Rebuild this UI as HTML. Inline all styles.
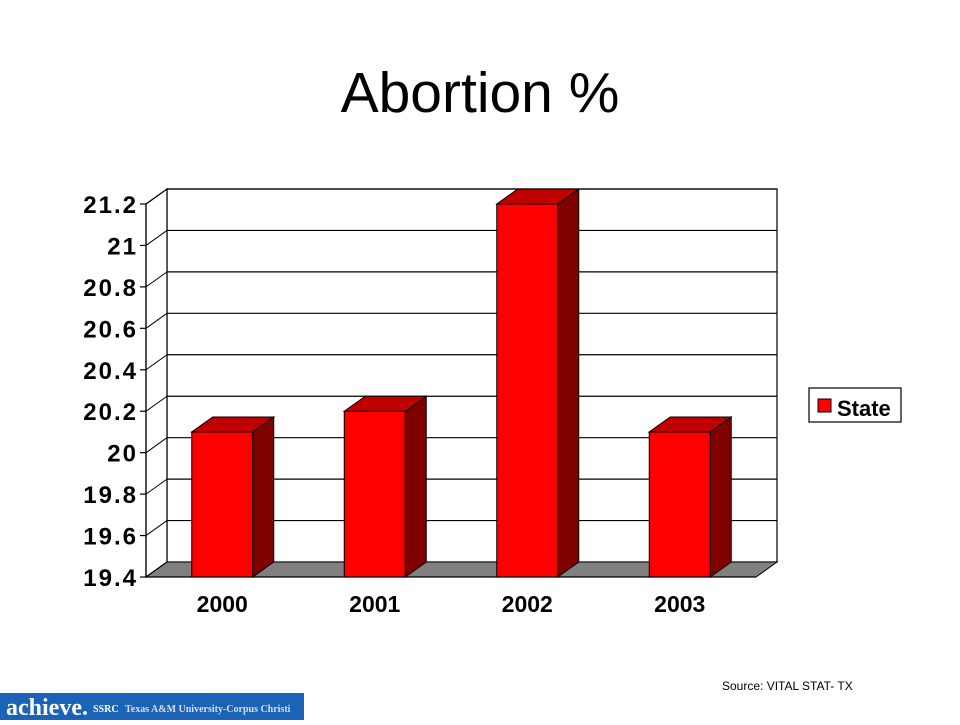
<!DOCTYPE html>
<html><head><meta charset="utf-8"><style>
body{margin:0;background:#fff;width:960px;height:720px;overflow:hidden;font-family:"Liberation Sans",sans-serif}
</style></head><body>
<svg width="960" height="720" xmlns="http://www.w3.org/2000/svg">
<text x="480" y="112" text-anchor="middle" font-size="57" font-family="Liberation Sans">Abortion %</text>
<g id="plot"></g>
<g>
<rect x="809" y="388" width="92" height="34" fill="#fff" stroke="#000" stroke-width="1.2"/>
<rect x="818" y="399" width="13" height="13" fill="#f00" stroke="#000"/>
<text x="837" y="416" font-size="22" font-weight="bold">State</text>
</g>
<text x="722" y="690" font-size="12">Source: VITAL  STAT- TX</text>
<g>
<rect x="0" y="693" width="304" height="27" fill="#1b63b6"/>
<text x="6" y="715" font-family="Liberation Serif" font-size="24" font-weight="bold" fill="#fff">achieve.</text>
<text x="93" y="712" font-family="Liberation Serif" font-size="10" font-weight="bold" fill="#fff">SSRC</text>
<text x="125" y="712" font-family="Liberation Serif" font-size="10" font-weight="bold" fill="#dde">Texas A&amp;M University-Corpus Christi</text>
</g>
</svg>
<script>
const categories=["2000","2001","2002","2003"];
const values=[20.1,20.2,21.2,20.1];
const ticks=[19.4,19.6,19.8,20,20.2,20.4,20.6,20.8,21,21.2];
const NS="http://www.w3.org/2000/svg";
const g=document.getElementById('plot');
const DX=21,DY=15,X0=146,X1=756,YB=577,YT=204,VMIN=19.4,VMAX=21.2;
function y(v){return YB-(v-VMIN)/(VMAX-VMIN)*(YB-YT);}
function xc(i){return X0+(X1-X0)*(i+0.5)/categories.length;}
function el(t,a){const e=document.createElementNS(NS,t);for(const k in a)e.setAttribute(k,a[k]);g.appendChild(e);return e;}
let w=el('rect',{x:X0+DX,y:y(VMAX)-DY,width:X1-X0,height:y(VMIN)-y(VMAX),fill:'#fff',stroke:'#000','stroke-width':1.2});

let lw=el('polygon',{points:`${X0},${y(VMAX)} ${X0+DX},${y(VMAX)-DY} ${X0+DX},${y(VMIN)-DY} ${X0},${y(VMIN)}`,fill:'#fff',stroke:'#000','stroke-width':1.2});

let fl=el('polygon',{points:`${X0},${YB} ${X0+DX},${YB-DY} ${X1+DX},${YB-DY} ${X1},${YB}`,fill:'#808080',stroke:'#000','stroke-width':1});

ticks.forEach(t=>{
  const yy=y(t);
  if(t>VMIN){let gl=el('line',{x1:X0+DX,y1:yy-DY,x2:X1+DX,y2:yy-DY,stroke:'#000','stroke-width':1.2});
  }
  let d=el('line',{x1:X0,y1:yy,x2:X0+DX,y2:yy-DY,stroke:'#000','stroke-width':1});
  
  let tk=el('line',{x1:X0-6,y1:yy,x2:X0,y2:yy,stroke:'#000','stroke-width':1.2});
  
  let tx=el('text',{x:X0-8,y:yy+9,'text-anchor':'end','font-size':24,'font-weight':'bold','letter-spacing':2});tx.textContent=String(t);
  
});
let ax=el('line',{x1:X0,y1:y(VMAX),x2:X0,y2:YB,stroke:'#000','stroke-width':1.2});

categories.forEach((c,i)=>{
  const cx=xc(i),bw=61,l=cx-bw/2,r=cx+bw/2,top=y(values[i]);
  let f=el('rect',{x:l,y:top,width:bw,height:YB-top,fill:'#ff0000',stroke:'#000','stroke-width':1});
  
  let s=el('polygon',{points:`${r},${top} ${r+DX},${top-DY} ${r+DX},${YB-DY} ${r},${YB}`,fill:'#800000',stroke:'#000','stroke-width':1});
  
  let tp=el('polygon',{points:`${l},${top} ${l+DX},${top-DY} ${r+DX},${top-DY} ${r},${top}`,fill:'#c00000',stroke:'#000','stroke-width':1});
  
  let tx=el('text',{x:cx,y:612,'text-anchor':'middle','font-size':23,'font-weight':'bold'});tx.textContent=c;
  
});
let fr=el('line',{x1:X0,y1:YB,x2:X1,y2:YB,stroke:'#000','stroke-width':1.2});

</script>
</body></html>
